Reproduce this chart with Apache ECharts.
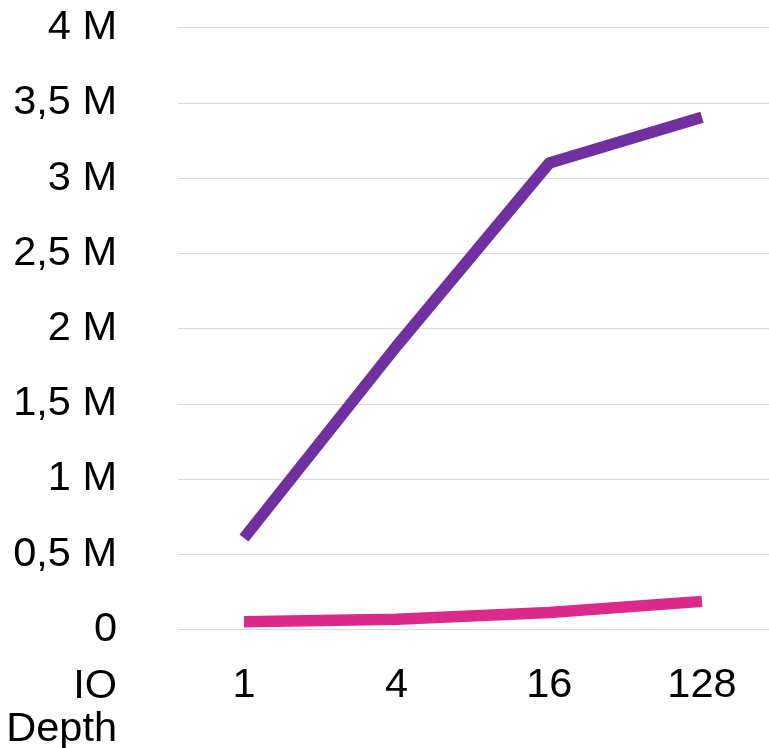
<!DOCTYPE html>
<html>
<head>
<meta charset="utf-8">
<script src="https://cdn.jsdelivr.net/npm/echarts@6/dist/echarts.min.js"></script>
<style>
  html, body { margin: 0; padding: 0; background: #fff; }
  #chart { width: 769px; height: 748px; }
</style>
</head>
<body>
<div id="chart"></div>
<script>
// IO depth levels on the x axis
const ioDepths = ['1', '4', '16', '128'];
// IOPS per depth for the two configurations
const iopsPurple = [608000, 1884000, 3100000, 3404000];
const iopsPink = [52000, 68000, 113000, 187000];
// y tick labels, indexed by value / 500 000
const yTickLabels = ['0', '0,5 M', '1 M', '1,5 M', '2 M', '2,5 M', '3 M', '3,5 M', '4 M'];

const FONT = '"Liberation Sans", Arial, sans-serif';
const positions = ioDepths.map((_, i) => i);

const chart = echarts.init(document.getElementById('chart'), null, { renderer: 'canvas' });
chart.setOption({
  animation: false,
  grid: {
    left: 178, right: 0, top: 27.6, bottom: 118.5,
    containLabel: false, outerBoundsMode: 'none'
  },
  xAxis: {
    type: 'value',
    min: -0.4323,
    max: 3.439,
    name: 'IO\nDepth',
    nameLocation: 'start',
    nameGap: 61,
    nameMoveOverlap: false,
    nameTextStyle: {
      fontFamily: FONT, fontSize: 41.5, color: '#000',
      align: 'right', verticalAlign: 'top', lineHeight: 43,
      padding: [36, 0, 0, 0]
    },
    axisLine: { show: false },
    axisTick: { show: false },
    splitLine: { show: false },
    axisLabel: {
      customValues: positions,
      formatter: v => ioDepths[Math.round(v)],
      fontFamily: FONT, fontSize: 41.5, color: '#000', margin: 35
    }
  },
  yAxis: {
    type: 'value',
    min: 0,
    max: 4000000,
    interval: 500000,
    axisLine: { show: false },
    axisTick: { show: false },
    splitLine: { lineStyle: { color: '#d9d9d9', width: 1 } },
    axisLabel: {
      formatter: v => yTickLabels[Math.round(v / 500000)],
      fontFamily: FONT, fontSize: 41.5, color: '#000', margin: 61,
      padding: [0, 0, 6, 0]
    }
  },
  series: [
    {
      type: 'line',
      data: positions.map(i => [i, iopsPink[i]]),
      showSymbol: false,
      lineStyle: { color: '#db2a8c', width: 11.5, cap: 'butt', join: 'round' }
    },
    {
      type: 'line',
      data: positions.map(i => [i, iopsPurple[i]]),
      showSymbol: false,
      lineStyle: { color: '#7030a0', width: 11.5, cap: 'butt', join: 'round' }
    }
  ]
});
</script>
</body>
</html>
